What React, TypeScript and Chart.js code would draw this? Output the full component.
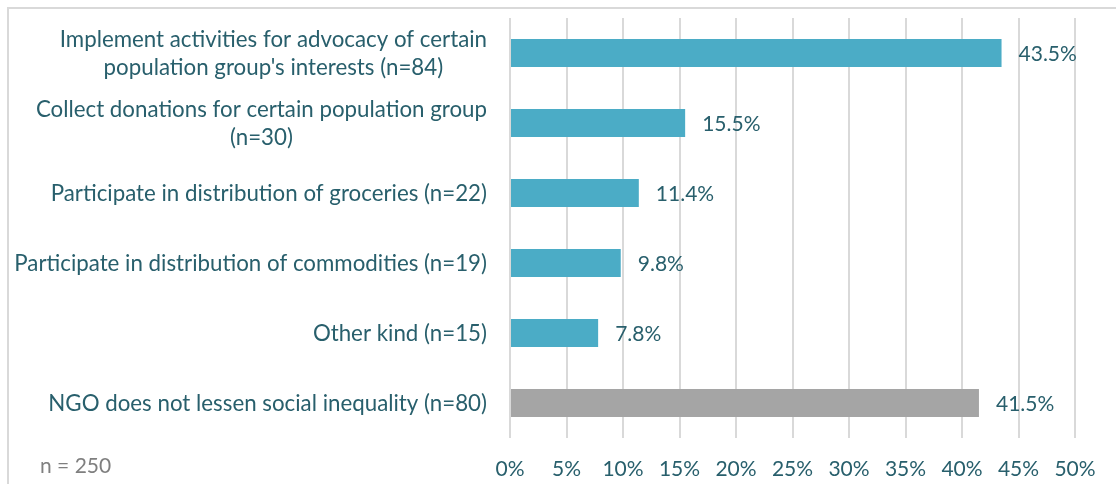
import React, { useEffect, useRef } from "react";
import { Chart, registerables } from "chart.js";

Chart.register(...registerables);

const categories: string[][] = [
  ["Implement activities for advocacy of certain", "population group's interests (n=84)"],
  ["Collect donations for certain population group", "(n=30)"],
  ["Participate in distribution of groceries (n=22)"],
  ["Participate in distribution of commodities (n=19)"],
  ["Other kind (n=15)"],
  ["NGO does not lessen social inequality (n=80)"],
];
const values: number[] = [43.5, 15.5, 11.4, 9.8, 7.8, 41.5];
const barColors: string[] = ["#4bacc6", "#4bacc6", "#4bacc6", "#4bacc6", "#4bacc6", "#a5a5a5"];
const xTicks: number[] = [0, 5, 10, 15, 20, 25, 30, 35, 40, 45, 50];
const footnote = "n = 250";

const FONT = "Lato";
const FONT_SIZE = 21;
const CAT_FONT_SIZE = 22.3;
const TEXT = "#285f6c";

export default function App() {
  const ref = useRef<HTMLCanvasElement | null>(null);

  useEffect(() => {
    const canvas = ref.current;
    if (!canvas) return;

    const labelPlugin = {
      id: "customLabels",
      afterDatasetsDraw(chart: any) {
        const ctx = chart.ctx;
        const y = chart.scales.y;
        const meta = chart.getDatasetMeta(0);
        ctx.save();
        ctx.font = `${FONT_SIZE}px ${FONT}`;
        ctx.fillStyle = TEXT;
        ctx.textBaseline = "middle";
        // value labels
        meta.data.forEach((bar: any, i: number) => {
          ctx.textAlign = "left";
          ctx.fillText(values[i].toFixed(1) + "%", bar.x + 17, bar.y + 1);
        });
        // category labels (block right-aligned, lines centered)
        ctx.font = `${CAT_FONT_SIZE}px ${FONT}`;
        const rightX = chart.chartArea.left - 23;
        const lh = 28;
        categories.forEach((lines, i) => {
          const cy = y.getPixelForValue(i);
          let maxW = 0;
          lines.forEach((l) => (maxW = Math.max(maxW, ctx.measureText(l).width)));
          const cx = rightX - maxW / 2;
          ctx.textAlign = "center";
          lines.forEach((l, j) => {
            const ly = cy + (j - (lines.length - 1) / 2) * lh + 1;
            ctx.fillText(l, cx, ly);
          });
        });
        // footnote
        ctx.fillStyle = "#7f7f7f";
        ctx.textAlign = "left";
        ctx.font = `21px ${FONT}`;
        ctx.fillText(footnote, 40, 466);
        ctx.restore();
      },
    };

    const chart = new Chart(canvas, {
      type: "bar",
      data: {
        labels: categories.map((c) => c.join(" ")),
        datasets: [
          {
            data: values,
            backgroundColor: barColors,
            barPercentage: 0.4,
            categoryPercentage: 1,
          },
        ],
      },
      options: {
        indexAxis: "y",
        animation: false,
        responsive: false,
        maintainAspectRatio: false,
        layout: { padding: { top: 18, right: 41, left: 0, bottom: 0 } },
        plugins: {
          legend: { display: false },
          tooltip: { enabled: false },
        },
        scales: {
          x: {
            min: 0,
            max: 50,
            afterBuildTicks(scale: any) {
              scale.ticks = xTicks.map((v) => ({ value: v }));
            },
            afterFit(scale: any) {
              scale.height = 46;
            },
            grid: { color: "#d9d9d9", lineWidth: 2, drawTicks: false },
            border: { display: false },
            ticks: {
              padding: 19,
              color: TEXT,
              font: { family: FONT, size: FONT_SIZE },
              callback: (v: any) => v + "%",
            },
          },
          y: {
            afterFit(scale: any) {
              scale.width = 510;
            },
            grid: { display: false },
            border: { display: false },
            ticks: { display: false },
          },
        },
      },
      plugins: [labelPlugin],
    });
    return () => chart.destroy();
  }, []);

  return (
    <div style={{ position: "fixed", left: 0, top: 0, width: 1116, height: 484, background: "#fff", overflow: "hidden" }}>
      <div
        style={{
          position: "absolute",
          left: 7,
          top: 7,
          width: 1120,
          height: 490,
          border: "2px solid #d9d9d9",
          boxSizing: "border-box",
        }}
      />
      <canvas ref={ref} width={1116} height={484} style={{ position: "absolute", left: 0, top: 0, display: "block" }} />
    </div>
  );
}
